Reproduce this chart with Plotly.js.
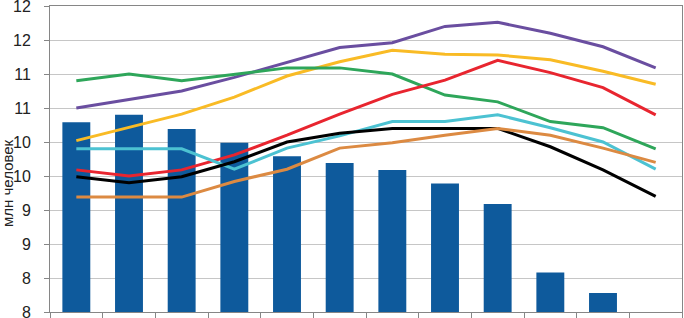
<!DOCTYPE html>
<html>
<head>
<meta charset="utf-8">
<script src="https://cdn.plot.ly/plotly-3.0.1.min.js"></script>
<style>html,body{margin:0;padding:0;background:#fff;}#chart{width:684px;height:318px;}</style>
</head>
<body>
<div id="chart"></div>
<script>
const categories = ['1','2','3','4','5','6','7','8','9','10','11','12'];
const barValues = [10.29, 10.40, 10.19, 9.99, 9.79, 9.69, 9.59, 9.39, 9.09, 8.08, 7.78, null];
const purpleSeries = [10.50, 10.62, 10.75, 10.95, 11.17, 11.39, 11.46, 11.70, 11.76, 11.60, 11.40, 11.09];
const yellowSeries = [10.02, 10.22, 10.41, 10.66, 10.97, 11.18, 11.35, 11.29, 11.28, 11.21, 11.04, 10.85];
const greenSeries  = [10.90, 11.00, 10.90, 11.00, 11.09, 11.09, 11.00, 10.69, 10.59, 10.30, 10.21, 9.90];
const redSeries    = [9.59, 9.50, 9.59, 9.81, 10.10, 10.41, 10.70, 10.91, 11.20, 11.02, 10.80, 10.40];
const cyanSeries   = [9.90, 9.90, 9.90, 9.60, 9.91, 10.09, 10.30, 10.30, 10.40, 10.21, 10.00, 9.60];
const blackSeries  = [9.49, 9.40, 9.49, 9.71, 10.00, 10.13, 10.20, 10.20, 10.20, 9.93, 9.59, 9.20];
const orangeSeries = [9.19, 9.19, 9.19, 9.42, 9.60, 9.91, 9.99, 10.10, 10.20, 10.10, 9.91, 9.70];
const yTickVals = [7.5, 8, 8.5, 9, 9.5, 10, 10.5, 11, 11.5, 12];
const yTickText = ['8', '8', '9', '9', '10', '10', '11', '11', '12', '12'];
const yTitle = 'млн человек';

function line(y, color) {
  return {type: 'scatter', mode: 'lines', x: categories, y: y,
          line: {color: color, width: 3}, hoverinfo: 'skip'};
}

const data = [
  {type: 'bar', x: categories, y: barValues, marker: {color: '#0e5a9c'}, hoverinfo: 'skip'},
  line(purpleSeries, '#6a4ea0'),
  line(yellowSeries, '#f9bb25'),
  line(greenSeries, '#2ea65a'),
  line(redSeries, '#e8252f'),
  line(cyanSeries, '#4cc2d2'),
  line(blackSeries, '#000000'),
  line(orangeSeries, '#dc8a42')
];

const layout = {
  width: 684, height: 318,
  margin: {l: 50, r: 2, t: 6, b: 6, pad: 0},
  paper_bgcolor: '#ffffff', plot_bgcolor: '#ffffff',
  showlegend: false,
  bargap: 0.47,
  font: {family: 'Liberation Sans, Arial, sans-serif', size: 16, color: '#222222'},
  xaxis: {
    type: 'category', range: [-0.5, 11.5],
    showticklabels: false, tickson: 'boundaries',
    ticks: 'outside', ticklen: 6, tickcolor: '#868686',
    showgrid: false, zeroline: false,
    showline: true, linecolor: '#868686', linewidth: 1, mirror: true,
    fixedrange: true
  },
  yaxis: {
    range: [7.5, 12],
    tickmode: 'array', tickvals: yTickVals, ticktext: yTickText,
    ticks: 'outside', ticklen: 5, tickcolor: '#868686',
    ticklabelstandoff: 10,
    ticklabeloverflow: 'allow',
    showgrid: true, gridcolor: '#c6c6c6', gridwidth: 1,
    zeroline: false,
    showline: true, linecolor: '#868686', linewidth: 1, mirror: true,
    tickfont: {size: 16, color: '#222222'},
    fixedrange: true
  },
  annotations: [{
    text: yTitle, textangle: -90, showarrow: false,
    xref: 'paper', yref: 'paper', x: -0.0665, y: 0.4216,
    xanchor: 'center', yanchor: 'middle',
    font: {size: 15, color: '#222222'}
  }]
};

Plotly.newPlot('chart', data, layout, {staticPlot: true, displayModeBar: false});
</script>
</body>
</html>
